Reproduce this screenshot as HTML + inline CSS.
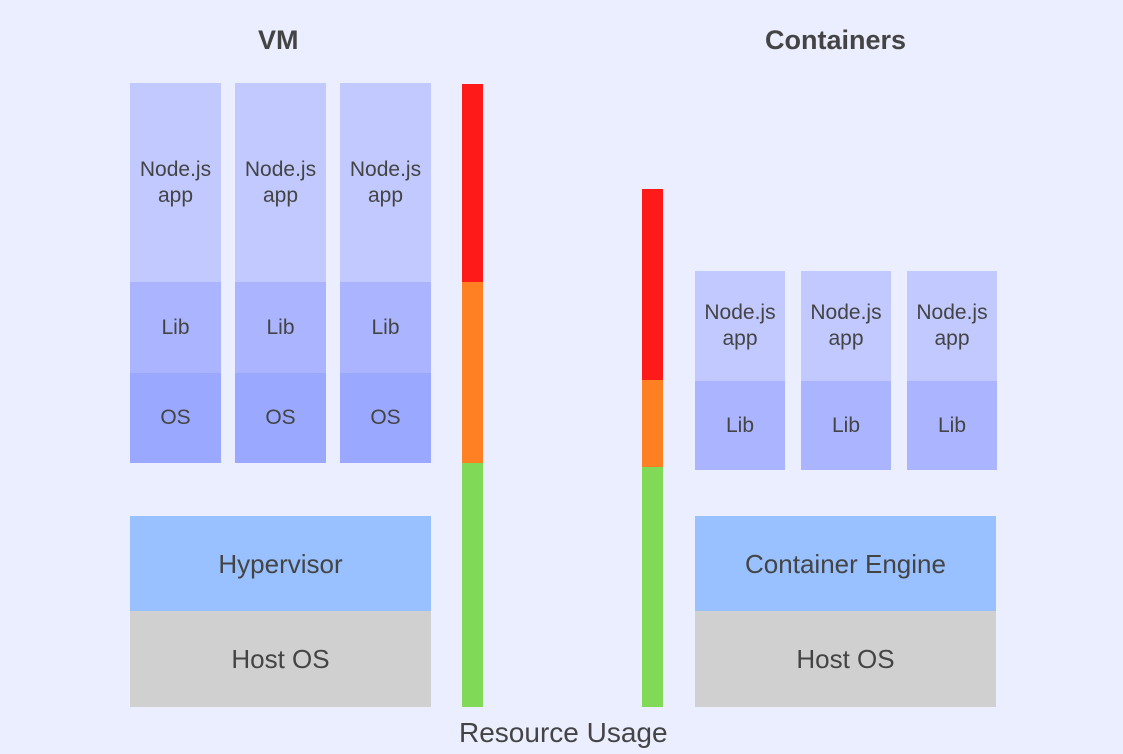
<!DOCTYPE html><html><head><style>
body{margin:0;width:1123px;height:754px;background:#ebeeff;position:relative;overflow:hidden;font-family:"Liberation Sans",sans-serif;color:#444}
div.b{position:absolute;display:flex;align-items:center;justify-content:center;text-align:center;font-size:21px;line-height:26px}
.t{position:absolute;font-size:27px;font-weight:bold;color:#444;white-space:nowrap}
.a{background:#c1c9ff}.l{background:#abb5ff}.o{background:#9aa9ff}
.h{background:#99c0ff;font-size:26px!important}.g{background:#d0d0d0;font-size:26px!important}
</style></head><body>
<div class="t" style="left:258px;top:25px">VM</div>
<div class="t" style="left:765px;top:25px">Containers</div>
<div class="t" style="left:459px;top:717px;font-weight:normal;font-size:28px">Resource Usage</div>

<div class="b a" style="left:130px;top:83px;width:91px;height:199px">Node.js<br>app</div>
<div class="b l" style="left:130px;top:282px;width:91px;height:91px">Lib</div>
<div class="b o" style="left:130px;top:373px;width:91px;height:90px">OS</div>
<div class="b a" style="left:235px;top:83px;width:91px;height:199px">Node.js<br>app</div>
<div class="b l" style="left:235px;top:282px;width:91px;height:91px">Lib</div>
<div class="b o" style="left:235px;top:373px;width:91px;height:90px">OS</div>
<div class="b a" style="left:340px;top:83px;width:91px;height:199px">Node.js<br>app</div>
<div class="b l" style="left:340px;top:282px;width:91px;height:91px">Lib</div>
<div class="b o" style="left:340px;top:373px;width:91px;height:90px">OS</div>

<div class="b h" style="left:130px;top:516px;width:301px;height:95px">Hypervisor</div>
<div class="b g" style="left:130px;top:611px;width:301px;height:96px">Host OS</div>

<div class="b" style="left:462px;top:84px;width:21px;height:198px;background:#ff1a1a"></div>
<div class="b" style="left:462px;top:282px;width:21px;height:181px;background:#ff8022"></div>
<div class="b" style="left:462px;top:463px;width:21px;height:244px;background:#80da58"></div>

<div class="b" style="left:642px;top:189px;width:21px;height:191px;background:#ff1a1a"></div>
<div class="b" style="left:642px;top:380px;width:21px;height:87px;background:#ff8022"></div>
<div class="b" style="left:642px;top:467px;width:21px;height:240px;background:#80da58"></div>

<div class="b a" style="left:695px;top:271px;width:90px;height:110px">Node.js<br>app</div>
<div class="b l" style="left:695px;top:381px;width:90px;height:89px">Lib</div>
<div class="b a" style="left:801px;top:271px;width:90px;height:110px">Node.js<br>app</div>
<div class="b l" style="left:801px;top:381px;width:90px;height:89px">Lib</div>
<div class="b a" style="left:907px;top:271px;width:90px;height:110px">Node.js<br>app</div>
<div class="b l" style="left:907px;top:381px;width:90px;height:89px">Lib</div>

<div class="b h" style="left:695px;top:516px;width:301px;height:95px">Container Engine</div>
<div class="b g" style="left:695px;top:611px;width:301px;height:96px">Host OS</div>
</body></html>
